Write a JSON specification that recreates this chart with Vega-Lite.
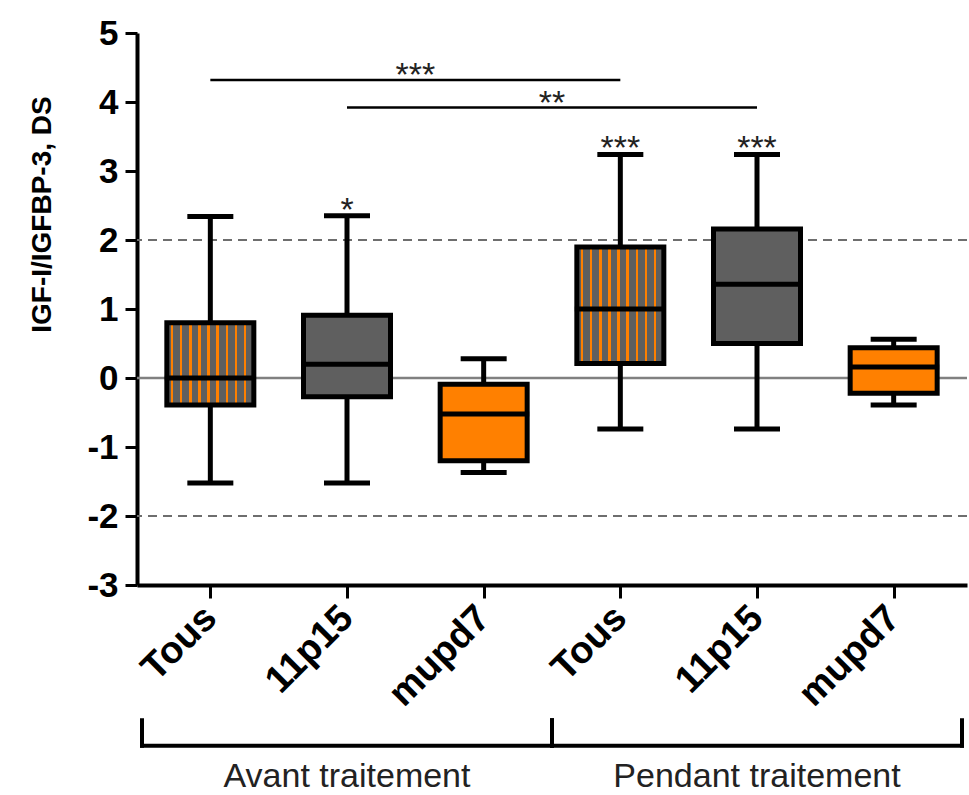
{
  "$schema": "https://vega.github.io/schema/vega-lite/v6.json",
  "width": 830,
  "height": 552,
  "autosize": {"type": "none"},
  "padding": {"left": 137, "top": 33, "right": 2, "bottom": 210},
  "background": "white",
  "config": {"view": {"stroke": null}, "font": "Liberation Sans"},
  "datasets": {
    "boxes": [
      {"group": "Avant traitement", "cat": "Tous", "pos": 1, "min": -1.52, "q1": -0.39, "median": 0.0, "q3": 0.80, "max": 2.34, "kind": "motif", "sig": ""},
      {"group": "Avant traitement", "cat": "11p15", "pos": 2, "min": -1.52, "q1": -0.27, "median": 0.20, "q3": 0.91, "max": 2.35, "kind": "gris", "sig": "*"},
      {"group": "Avant traitement", "cat": "mupd7", "pos": 3, "min": -1.37, "q1": -1.20, "median": -0.52, "q3": -0.09, "max": 0.28, "kind": "orange", "sig": ""},
      {"group": "Pendant traitement", "cat": "Tous", "pos": 4, "min": -0.74, "q1": 0.21, "median": 1.0, "q3": 1.90, "max": 3.24, "kind": "motif", "sig": "***"},
      {"group": "Pendant traitement", "cat": "11p15", "pos": 5, "min": -0.74, "q1": 0.50, "median": 1.36, "q3": 2.16, "max": 3.24, "kind": "gris", "sig": "***"},
      {"group": "Pendant traitement", "cat": "mupd7", "pos": 6, "min": -0.39, "q1": -0.22, "median": 0.16, "q3": 0.44, "max": 0.56, "kind": "orange", "sig": ""}
    ],
    "comparisons": [
      {"from": 1, "to": 4, "level": 4.32, "sig": "***"},
      {"from": 2, "to": 5, "level": 3.92, "sig": "**"}
    ],
    "refs": [
      {"v": 2, "kind": "dashed"},
      {"v": -2, "kind": "dashed"},
      {"v": 0, "kind": "solid"}
    ],
    "groups": [
      {"group": "Avant traitement", "from": 0.5, "to": 3.5},
      {"group": "Pendant traitement", "from": 3.5, "to": 6.5}
    ]
  },
  "data": {"name": "boxes"},
  "encoding": {
    "x": {
      "field": "pos",
      "type": "quantitative",
      "scale": {"domain": [0.5, 6.5], "nice": false, "zero": false},
      "axis": {
        "values": [1, 2, 3, 4, 5, 6],
        "labelExpr": "['', 'Tous', '11p15', 'mupd7', 'Tous', '11p15', 'mupd7'][datum.value]",
        "title": null,
        "grid": false,
        "domainColor": "black",
        "domainWidth": 4,
        "tickColor": "black",
        "tickWidth": 3,
        "tickSize": 13,
        "labelAngle": -45,
        "labelAlign": "right",
        "labelBaseline": "middle",
        "labelFont": "Liberation Sans",
        "labelFontWeight": "bold",
        "labelFontSize": 38,
        "labelColor": "black",
        "labelPadding": 14,
        "labelOverlap": false,
        "labelFlush": false
      }
    }
  },
  "layer": [
    {
      "data": {"name": "refs"},
      "transform": [{"filter": "datum.kind === 'dashed'"}],
      "mark": {"type": "rule", "color": "#6e6e6e", "strokeWidth": 2, "strokeDash": [9, 6]},
      "encoding": {
        "x": null,
        "y": {
          "field": "v",
          "type": "quantitative",
          "scale": {"domain": [-3, 5], "nice": false, "zero": false},
          "axis": {
            "values": [-3, -2, -1, 0, 1, 2, 3, 4, 5],
            "labelExpr": "'' + datum.value",
            "title": "IGF-I/IGFBP-3, DS",
            "titleFont": "Liberation Sans",
            "titleFontWeight": "bold",
            "titleFontSize": 28,
            "titleColor": "black",
            "titlePadding": 30,
            "titleY": 181,
            "grid": false,
            "domainColor": "black",
            "domainWidth": 4,
            "tickColor": "black",
            "tickWidth": 3,
            "tickSize": 12,
            "labelFont": "Liberation Sans",
            "labelFontWeight": "bold",
            "labelFontSize": 35,
            "labelColor": "black",
            "labelPadding": 7
          }
        }
      }
    },
    {
      "data": {"name": "refs"},
      "transform": [{"filter": "datum.kind === 'solid'"}],
      "mark": {"type": "rule", "color": "#808080", "strokeWidth": 2.5},
      "encoding": {"x": null, "y": {"field": "v", "type": "quantitative"}}
    },
    {
      "mark": {"type": "rule", "color": "black", "strokeWidth": 5},
      "encoding": {
        "y": {"field": "min", "type": "quantitative"},
        "y2": {"field": "max"}
      }
    },
    {
      "mark": {"type": "tick", "orient": "horizontal", "color": "black", "size": 46, "thickness": 5, "opacity": 1},
      "encoding": {"y": {"field": "min", "type": "quantitative"}}
    },
    {
      "mark": {"type": "tick", "orient": "horizontal", "color": "black", "size": 46, "thickness": 5, "opacity": 1},
      "encoding": {"y": {"field": "max", "type": "quantitative"}}
    },
    {
      "transform": [{"filter": "datum.kind !== 'motif'"}],
      "mark": {"type": "bar", "width": 87, "stroke": "black", "strokeWidth": 5, "fillOpacity": 1},
      "encoding": {
        "y": {"field": "q1", "type": "quantitative"},
        "y2": {"field": "q3"},
        "fill": {
          "field": "kind",
          "type": "nominal",
          "scale": {"domain": ["gris", "orange"], "range": ["#5f5f5f", "#ff8000"]},
          "legend": null
        }
      }
    },
    {
      "transform": [{"filter": "datum.kind === 'motif'"}],
      "mark": {
        "type": "bar",
        "width": 87,
        "stroke": "black",
        "strokeWidth": 5,
        "fillOpacity": 1,
        "fill": {
          "gradient": "linear",
          "x1": 0, "y1": 0, "x2": 1, "y2": 0,
          "stops": [
            {"offset": 0, "color": "#5f5f5f"},
            {"offset": 0.045, "color": "#5f5f5f"}, {"offset": 0.045, "color": "#ff8000"}, {"offset": 0.075, "color": "#ff8000"}, {"offset": 0.075, "color": "#5f5f5f"},
            {"offset": 0.15, "color": "#5f5f5f"}, {"offset": 0.15, "color": "#ff8000"}, {"offset": 0.18, "color": "#ff8000"}, {"offset": 0.18, "color": "#5f5f5f"},
            {"offset": 0.255, "color": "#5f5f5f"}, {"offset": 0.255, "color": "#ff8000"}, {"offset": 0.285, "color": "#ff8000"}, {"offset": 0.285, "color": "#5f5f5f"},
            {"offset": 0.36, "color": "#5f5f5f"}, {"offset": 0.36, "color": "#ff8000"}, {"offset": 0.39, "color": "#ff8000"}, {"offset": 0.39, "color": "#5f5f5f"},
            {"offset": 0.465, "color": "#5f5f5f"}, {"offset": 0.465, "color": "#ff8000"}, {"offset": 0.495, "color": "#ff8000"}, {"offset": 0.495, "color": "#5f5f5f"},
            {"offset": 0.57, "color": "#5f5f5f"}, {"offset": 0.57, "color": "#ff8000"}, {"offset": 0.6, "color": "#ff8000"}, {"offset": 0.6, "color": "#5f5f5f"},
            {"offset": 0.675, "color": "#5f5f5f"}, {"offset": 0.675, "color": "#ff8000"}, {"offset": 0.705, "color": "#ff8000"}, {"offset": 0.705, "color": "#5f5f5f"},
            {"offset": 0.78, "color": "#5f5f5f"}, {"offset": 0.78, "color": "#ff8000"}, {"offset": 0.81, "color": "#ff8000"}, {"offset": 0.81, "color": "#5f5f5f"},
            {"offset": 0.885, "color": "#5f5f5f"}, {"offset": 0.885, "color": "#ff8000"}, {"offset": 0.915, "color": "#ff8000"}, {"offset": 0.915, "color": "#5f5f5f"},
            {"offset": 1, "color": "#5f5f5f"}
          ]
        }
      },
      "encoding": {
        "y": {"field": "q1", "type": "quantitative"},
        "y2": {"field": "q3"}
      }
    },
    {
      "mark": {"type": "tick", "orient": "horizontal", "color": "black", "size": 91, "thickness": 5, "opacity": 1},
      "encoding": {"y": {"field": "median", "type": "quantitative"}}
    },
    {
      "mark": {"type": "text", "font": "Liberation Sans", "fontSize": 34, "color": "#222222", "baseline": "alphabetic", "dy": 5},
      "encoding": {
        "y": {"field": "max", "type": "quantitative"},
        "text": {"field": "sig"}
      }
    },
    {
      "data": {"name": "comparisons"},
      "mark": {"type": "rule", "color": "black", "strokeWidth": 2.5},
      "encoding": {
        "x": {"field": "from", "type": "quantitative"},
        "x2": {"field": "to"},
        "y": {"field": "level", "type": "quantitative"}
      }
    },
    {
      "data": {"name": "comparisons"},
      "transform": [{"calculate": "(datum.from + datum.to) / 2", "as": "mid"}],
      "mark": {"type": "text", "font": "Liberation Sans", "fontSize": 34, "color": "#222222", "baseline": "alphabetic", "dy": 6},
      "encoding": {
        "x": {"field": "mid", "type": "quantitative"},
        "y": {"field": "level", "type": "quantitative"},
        "text": {"field": "sig"}
      }
    },
    {
      "data": {"name": "groups"},
      "mark": {"type": "rule", "color": "black", "strokeWidth": 4, "strokeCap": "square"},
      "encoding": {
        "x": {"field": "from", "type": "quantitative"},
        "x2": {"field": "to"},
        "y": {"datum": -5.33, "type": "quantitative"}
      }
    },
    {
      "data": {"name": "groups"},
      "mark": {"type": "rule", "color": "black", "strokeWidth": 4, "strokeCap": "square"},
      "encoding": {
        "x": {"field": "from", "type": "quantitative"},
        "y": {"datum": -4.96, "type": "quantitative"},
        "y2": {"datum": -5.33}
      }
    },
    {
      "data": {"name": "groups"},
      "mark": {"type": "rule", "color": "black", "strokeWidth": 4, "strokeCap": "square"},
      "encoding": {
        "x": {"field": "to", "type": "quantitative"},
        "y": {"datum": -4.96, "type": "quantitative"},
        "y2": {"datum": -5.33}
      }
    },
    {
      "data": {"name": "groups"},
      "transform": [{"calculate": "(datum.from + datum.to) / 2", "as": "mid"}],
      "mark": {"type": "text", "font": "Liberation Sans", "fontSize": 34, "color": "#222222", "baseline": "middle", "align": "center"},
      "encoding": {
        "x": {"field": "mid", "type": "quantitative"},
        "y": {"datum": -5.78, "type": "quantitative"},
        "text": {"field": "group"}
      }
    }
  ]
}
